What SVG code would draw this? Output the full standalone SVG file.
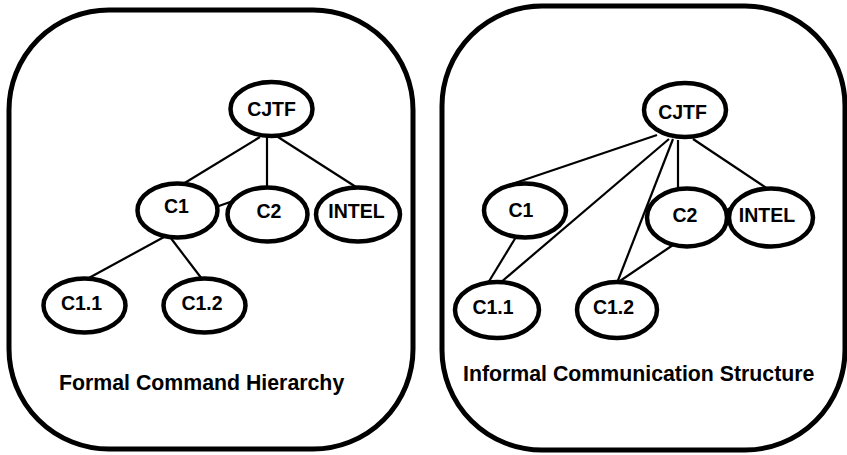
<svg xmlns="http://www.w3.org/2000/svg" width="847" height="455" viewBox="0 0 847 455">
  <style>
    .panel { fill: #fff; stroke: #000; stroke-width: 5; }
    .node ellipse { fill: #fff; stroke: #000; stroke-width: 4.5; }
    .node text { font-family: "Liberation Sans", Arial, Helvetica, sans-serif; font-weight: bold; font-size: 19.5px; text-anchor: middle; fill: #000; }
    .edges line { stroke: #000; stroke-width: 2.2; }
    .caption { font-family: "Liberation Sans", Arial, Helvetica, sans-serif; font-weight: bold; font-size: 21.3px; fill: #000; }
  </style>
  <rect width="847" height="455" fill="#fff"/>

  <!-- Formal command hierarchy panel -->
  <rect id="panel-formal" class="panel" x="9" y="10" width="404" height="439" rx="100" ry="100"/>
  <g id="edges-formal" class="edges">
    <line x1="260" y1="137" x2="183" y2="184"/>
    <line x1="267" y1="137" x2="267" y2="187"/>
    <line x1="278" y1="137" x2="356" y2="187"/>
    <line x1="216" y1="207" x2="233" y2="201"/>
    <line x1="164" y1="237" x2="87" y2="279"/>
    <line x1="170" y1="237" x2="202" y2="279"/>
  </g>
  <g id="f-cjtf" class="node"><ellipse cx="271.5" cy="109" rx="41" ry="27"/><text x="271.5" y="115.5">CJTF</text></g>
  <g id="f-c1" class="node"><ellipse cx="177.5" cy="210.5" rx="40" ry="27"/><text x="176.5" y="212.5">C1</text></g>
  <g id="f-c2" class="node"><ellipse cx="267.5" cy="214.5" rx="40" ry="27"/><text x="269" y="217.5">C2</text></g>
  <g id="f-intel" class="node"><ellipse cx="358" cy="214.5" rx="42" ry="27"/><text x="356.5" y="217.5">INTEL</text></g>
  <g id="f-c11" class="node"><ellipse cx="84.5" cy="305.5" rx="41" ry="27"/><text x="81.5" y="309.5">C1.1</text></g>
  <g id="f-c12" class="node"><ellipse cx="204.5" cy="305.5" rx="41" ry="27"/><text x="202" y="309.5">C1.2</text></g>
  <text class="caption" x="59" y="390">Formal Command Hierarchy</text>

  <!-- Informal communication structure panel -->
  <rect id="panel-informal" class="panel" x="442" y="6" width="403" height="444" rx="100" ry="100"/>
  <g id="edges-informal" class="edges">
    <line x1="657" y1="135" x2="512" y2="184"/>
    <line x1="669" y1="139" x2="500" y2="283"/>
    <line x1="673" y1="139" x2="617" y2="283"/>
    <line x1="678" y1="140" x2="678" y2="189"/>
    <line x1="693" y1="139" x2="768" y2="189"/>
    <line x1="516" y1="237" x2="488" y2="283"/>
    <line x1="673" y1="245" x2="617" y2="283"/>
    <line x1="722" y1="213" x2="735" y2="205"/>
  </g>
  <g id="i-cjtf" class="node"><ellipse cx="685" cy="110" rx="41" ry="27"/><text x="682.5" y="119">CJTF</text></g>
  <g id="i-c1" class="node"><ellipse cx="525" cy="210.5" rx="41" ry="27"/><text x="521" y="217">C1</text></g>
  <g id="i-c2" class="node"><ellipse cx="687" cy="217.5" rx="40" ry="29"/><text x="685" y="222">C2</text></g>
  <g id="i-intel" class="node"><ellipse cx="771" cy="217.5" rx="42" ry="29"/><text x="767" y="222">INTEL</text></g>
  <g id="i-c11" class="node"><ellipse cx="497" cy="310" rx="42" ry="28"/><text x="493" y="314">C1.1</text></g>
  <g id="i-c12" class="node"><ellipse cx="617" cy="310" rx="40" ry="28"/><text x="613.5" y="314">C1.2</text></g>
  <text class="caption" x="463" y="381">Informal Communication Structure</text>
</svg>
